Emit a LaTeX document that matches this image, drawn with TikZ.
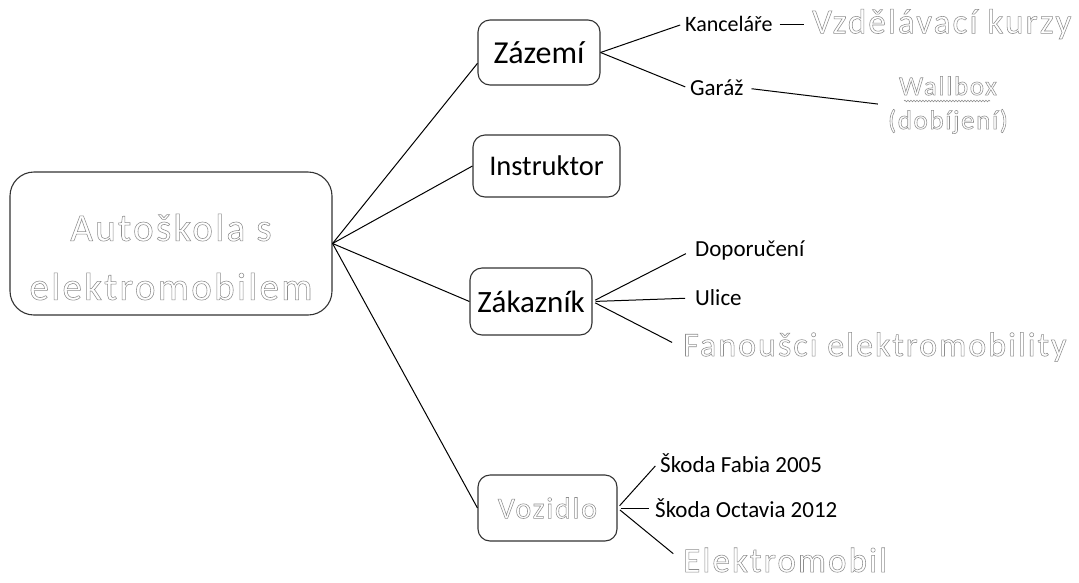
\documentclass[tikz,border=0pt]{standalone}
\usepackage{fontspec}
\setmainfont{Carlito}
\newfontfamily\outlfont{Carlito}[LetterSpace=6]
\usetikzlibrary{decorations.pathmorphing}
\definecolor{boxline}{HTML}{333333}
\definecolor{outlgray}{HTML}{8E8E8E}
\newcommand{\hollowtxt}[1]{\special{pdf:literal direct 1 Tr 0.55 w}#1\special{pdf:literal direct 0 Tr}}
\begin{document}
\begin{tikzpicture}[x=1pt,y=-1pt,
  mbox/.style={draw=boxline, line width=1.1pt, rounded corners=12pt, inner sep=0pt, align=center},
  leaf/.style={inner sep=2pt, anchor=west, font=\fontsize{23}{27}\selectfont},
  ghost/.style={text=outlgray},
  conn/.style={line width=1pt, draw=black}]
\useasboundingbox (0,0) rectangle (1079,582);
\fill[white] (0,0) rectangle (1079,582);
% boxes
\node[mbox, rounded corners=24pt, minimum width=322pt, minimum height=143pt] (root) at (171,243.5) {};
\node[ghost, align=center, inner sep=0pt, font=\outlfont\fontsize{39}{59}\selectfont] (roottxt) at (171,257) {\hollowtxt{Autoškola s}\\\hollowtxt{elektromobilem}};
\node[mbox, minimum width=122pt, minimum height=65pt, font=\fontsize{32}{38}\selectfont] (zaz) at (539,52.5) {Zázemí};
\node[mbox, minimum width=147pt, minimum height=62pt, font=\fontsize{28.5}{32}\selectfont] (ins) at (546.5,166) {Instruktor};
\node[mbox, minimum width=122pt, minimum height=67pt, font=\fontsize{31}{38}\selectfont] (zak) at (531,301.5) {Zákazník};
\node[mbox, minimum width=139pt, minimum height=66pt, ghost, font=\outlfont\fontsize{30}{36}\selectfont] (voz) at (547.5,508) {\hollowtxt{Vozidlo}};
% leaves
\node[leaf, font=\fontsize{22}{26}\selectfont] (kanc) at (683,24) {Kanceláře};
\node[leaf, ghost, font=\outlfont\fontsize{35}{40}\selectfont] (kurzy) at (810,24) {\hollowtxt{Vzdělávací kurzy}};
\node[leaf] (garaz) at (688,88) {Garáž};
\node[ghost, inner sep=2pt, align=center, font=\outlfont\fontsize{27}{34}\selectfont] (wall) at (948,105) {\hollowtxt{Wallbox}\\\hollowtxt{(dobíjení)}};
\node[leaf] (dop) at (693,250) {Doporučení};
\node[leaf] (ul) at (693,298) {Ulice};
\node[leaf, ghost, font=\outlfont\fontsize{34}{40}\selectfont] (fan) at (681,347) {\hollowtxt{Fanoušci elektromobility}};
\node[leaf] (fab) at (658,463) {Škoda Fabia 2005};
\node[leaf] (oct) at (653,508) {Škoda Octavia 2012};
\node[leaf, ghost, font=\outlfont\fontsize{35}{40}\selectfont] (el) at (681,560) {\hollowtxt{Elektromobil}};
% wavy underline
\draw[outlgray, line width=0.6pt, decorate, decoration={snake, amplitude=0.8pt, segment length=3pt}] (904,101) -- (990,101);
% connectors
\draw[conn] (root.east) -- (zaz.190);
\draw[conn] (root.east) -- (ins.west);
\draw[conn] (root.east) -- (zak.west);
\draw[conn] (root.east) -- (voz.west);
\draw[conn, shorten >=3pt] (zaz.east) -- (kanc.west);
\draw[conn, shorten >=3pt] (zaz.east) -- (garaz.west);
\draw[conn, shorten <=5pt, shorten >=6pt] (kanc.east) -- (kurzy.west);
\draw[conn, shorten <=6pt, shorten >=8pt] (garaz.east) -- (wall.west);
\draw[conn, shorten <=3pt, shorten >=8pt] (zak.east) -- (dop.west);
\draw[conn, shorten <=3pt, shorten >=8pt] (zak.east) -- (ul.west);
\draw[conn, shorten <=3pt, shorten >=10pt] (zak.east) -- (fan.west);
\draw[conn, shorten <=3pt, shorten >=4pt] (voz.east) -- (fab.west);
\draw[conn, shorten <=3pt, shorten >=4pt] (voz.east) -- (oct.west);
\draw[conn, shorten <=3pt, shorten >=10pt] (voz.east) -- (el.west);
\end{tikzpicture}
\end{document}
